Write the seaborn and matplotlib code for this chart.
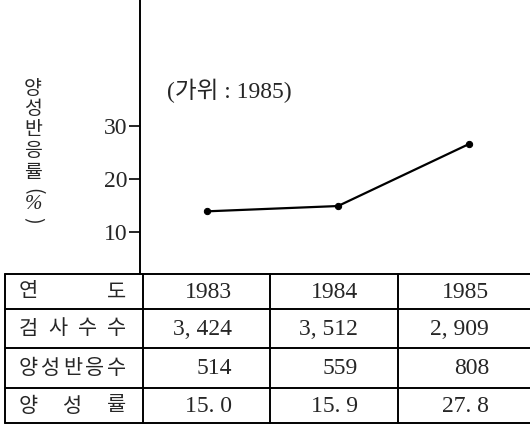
import numpy as np
import matplotlib
matplotlib.use("Agg")
import matplotlib.pyplot as plt
import seaborn as sns

# 데이터
years = ["1983", "1984", "1985"]
tested = [3424, 3512, 2909]
positive = [514, 559, 808]
rate = [15.0, 15.9, 27.8]
# 그래프에 찍힌 점 위치
plotted_rate = [13.9, 14.9, 26.6]
y_ticks = [10, 20, 30]
row_labels = ["연도", "검사수수", "양성반응수", "양성률"]
note = "(가위 : 1985)"
y_label = "양성반응률(%)"

sns.set_style("white")
FONT = ["Liberation Serif", "Noto Sans CJK KR", "DejaVu Sans"]
KOR = ["Noto Sans CJK KR", "DejaVu Sans"]
plt.rcParams["font.family"] = FONT

W, H = 530, 426
fig = plt.figure(figsize=(W / 100, H / 100), dpi=100)


def fx(x):
    return x / W


def fy(y):
    return 1 - y / H


# 꺾은선 그래프 영역
table_top = 274
ax = fig.add_axes([fx(140), fy(table_top), fx(W - 140), table_top / H])
ax.set_xlim(-67 / 131, (W - 207) / 131)
px_per_unit = 5.3
ax.set_ylim(10 - (table_top - 232) / px_per_unit, 10 + 232 / px_per_unit)

sns.lineplot(x=np.arange(len(years)), y=plotted_rate, ax=ax, color="black",
             linewidth=1.6, marker="o", markersize=4.5, markeredgecolor="black")

for s in ["top", "right", "bottom"]:
    ax.spines[s].set_visible(False)
ax.spines["left"].set_linewidth(1.4)
ax.spines["left"].set_color("black")
ax.set_xticks([])
ax.set_yticks(y_ticks)
ax.set_yticklabels([str(t) for t in y_ticks], fontsize=17)
ax.tick_params(axis="y", direction="out", length=8, width=1.4, pad=1, left=True)
ax.set_xlabel("")
ax.set_ylabel("")

fig.text(fx(167), fy(91), note, fontsize=17, ha="left", va="center", family=FONT)

# 세로 축 제목 (글자를 한 자씩 세로로 놓음)
lab_chars = y_label[:5]
for ch, y in zip(lab_chars, np.linspace(88, 172, len(lab_chars))):
    fig.text(fx(33), fy(y), ch, fontsize=14, ha="center", va="center", family=KOR)
fig.text(fx(33), fy(191), y_label[5], fontsize=14, rotation=-90,
         ha="center", va="center", family=KOR)
fig.text(fx(33), fy(205), y_label[6], fontsize=15, ha="center", va="center",
         family=FONT, style="italic")
fig.text(fx(33), fy(220), y_label[7], fontsize=14, rotation=-90,
         ha="center", va="center", family=KOR)

# 표 영역
tx = fig.add_axes([0, 0, 1, 1])
tx.set_xlim(0, W)
tx.set_ylim(H, 0)
tx.axis("off")

row_lines = [274, 309, 348, 388, 423]
col_lines = [5, 143, 270, 398]
for y in row_lines:
    tx.plot([5, W], [y, y], color="black", lw=1.4)
for x in col_lines:
    tx.plot([x, x], [row_lines[0], row_lines[-1]], color="black", lw=1.4)

rows = [
    years,
    [f"{v:,}".replace(",", ", ") for v in tested],
    [str(v) for v in positive],
    [f"{v:.1f}".replace(".", ". ") for v in rate],
]
right_edges = [232, 358, 489]
centers = [(row_lines[i] + row_lines[i + 1]) / 2 for i in range(4)]

for i, label in enumerate(row_labels):
    xs = np.linspace(28, 117, len(label))
    for ch, x in zip(label, xs):
        tx.text(x, centers[i], ch, fontsize=15, ha="center", va="center", family=KOR)
    for j, txt in enumerate(rows[i]):
        tx.text(right_edges[j], centers[i] + 1, txt, fontsize=17, ha="right",
                va="center", family=FONT)

fig.savefig("out.png", dpi=100)
